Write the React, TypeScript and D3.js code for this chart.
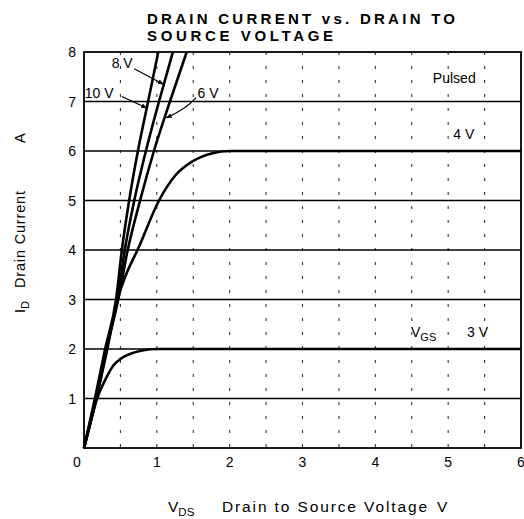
import * as d3 from "d3";

// Vds tick labels and Id tick labels
const vdsTicks = [0, 1, 2, 3, 4, 5, 6];
const idTicks = [1, 2, 3, 4, 5, 6, 7, 8];
const dashedVds = [0.5, 1, 1.5, 2, 2.5, 3, 3.5, 4, 4.5, 5, 5.5];
const solidId = [1, 2, 3, 4, 5, 6, 7];

// curves: [Vds (V), Id (A)]
const vgs10: [number, number][] = [[0, 0], [0.15, 1], [0.29, 2], [0.44, 3], [0.52, 4], [0.62, 5], [0.74, 6], [0.88, 7], [1.02, 8]];
const vgs8: [number, number][] = [[0, 0], [0.16, 1], [0.3, 2], [0.46, 3], [0.56, 4], [0.69, 5], [0.85, 6], [1.03, 7], [1.22, 8]];
const vgs6: [number, number][] = [[0, 0], [0.17, 1], [0.31, 2], [0.47, 3], [0.6, 4], [0.77, 5], [0.96, 6], [1.18, 7], [1.41, 8]];
const vgs4: [number, number][] = [[0, 0], [0.17, 1], [0.32, 2], [0.46, 3], [0.55, 3.4], [0.75, 4.05], [1.03, 5], [1.25, 5.5], [1.5, 5.8], [1.75, 5.95], [2, 6], [6, 6]];
const vgs3: [number, number][] = [[0, 0], [0.1, 0.6], [0.18, 1], [0.3, 1.4], [0.4, 1.66], [0.5, 1.8], [0.63, 1.9], [0.8, 1.97], [1, 2], [6, 2]];
const curves = [vgs10, vgs8, vgs6, vgs4, vgs3];

const W = 524;
const H = 519;
const m = { top: 52, right: 3, bottom: 71, left: 84 };
const font = "'Liberation Sans', Arial, sans-serif";

export default function App() {
  const x = d3.scaleLinear().domain([0, 6]).range([m.left, W - m.right]);
  const y = d3.scaleLinear().domain([0, 8]).range([H - m.bottom, m.top]);
  const path = d3
    .line<[number, number]>()
    .x((d) => x(d[0]))
    .y((d) => y(d[1]))
    .curve(d3.curveMonotoneX);

  // arrow for the 6 V label bends a little
  const arrow6 = d3.path();
  arrow6.moveTo(x(1.54), y(7.08));
  arrow6.quadraticCurveTo(x(1.4), y(6.85), x(1.13), y(6.67));

  return (
    <svg
      width={W}
      height={H}
      style={{ position: "absolute", left: 0, top: 0, background: "#fff" }}
      fontFamily={font}
    >
      <defs>
        <marker id="ah" viewBox="0 0 10 10" refX="9" refY="5" markerWidth="5" markerHeight="5" orient="auto">
          <path d="M0,1 L10,5 L0,9 z" fill="#000" />
        </marker>
      </defs>

      {/* title */}
      <text x={147} y={24} fontSize={15} fontWeight="bold" textLength={308} lengthAdjust="spacing">
        DRAIN CURRENT vs. DRAIN TO
      </text>
      <text x={147} y={41} fontSize={15} fontWeight="bold" textLength={186} lengthAdjust="spacing">
        SOURCE VOLTAGE
      </text>

      {/* grid */}
      {dashedVds.map((v) => (
        <line key={"v" + v} x1={x(v)} x2={x(v)} y1={y(8)} y2={y(0)} stroke="#333" strokeWidth={1.1} strokeDasharray="3 11" />
      ))}
      {solidId.map((v) => (
        <line key={"h" + v} x1={x(0)} x2={x(6)} y1={y(v)} y2={y(v)} stroke="#000" strokeWidth={1.6} />
      ))}
      <rect x={x(0)} y={y(8)} width={x(6) - x(0)} height={y(0) - y(8)} fill="none" stroke="#000" strokeWidth={1.8} />

      {/* curves */}
      {curves.map((c, i) => (
        <path key={i} d={path(c) || ""} fill="none" stroke="#000" strokeWidth={2.6} strokeLinejoin="round" />
      ))}

      {/* ticks */}
      {idTicks.map((t) => (
        <text key={"yt" + t} x={x(0) - 8} y={y(t) + 5} fontSize={14} textAnchor="end">
          {t}
        </text>
      ))}
      {vdsTicks.map((t) => (
        <text key={"xt" + t} x={x(t) - (t === 0 ? 7 : 0)} y={467} fontSize={14} textAnchor="middle">
          {t}
        </text>
      ))}

      {/* annotations */}
      <text x={x(0.01)} y={y(7.07)} fontSize={14}>10 V</text>
      <line x1={x(0.52)} y1={y(7.1)} x2={x(0.86)} y2={y(6.87)} stroke="#000" strokeWidth={1.2} markerEnd="url(#ah)" />
      <text x={x(0.38)} y={y(7.68)} fontSize={14}>8 V</text>
      <line x1={x(0.69)} y1={y(7.66)} x2={x(1.09)} y2={y(7.35)} stroke="#000" strokeWidth={1.2} markerEnd="url(#ah)" />
      <text x={x(1.56)} y={y(7.07)} fontSize={14}>6 V</text>
      <path d={arrow6.toString()} fill="none" stroke="#000" strokeWidth={1.2} markerEnd="url(#ah)" />
      <text x={x(4.79)} y={y(7.38)} fontSize={14}>Pulsed</text>
      <text x={x(5.07)} y={y(6.24)} fontSize={14}>4 V</text>
      <text x={x(4.49)} y={y(2.24)} fontSize={14}>
        V<tspan fontSize={11} dy={4}>GS</tspan>
        <tspan x={x(5.26)} dy={-4}>3 V</tspan>
      </text>

      {/* axis titles */}
      <text transform="translate(25,0) rotate(-90)" fontSize={14.5}>
        <tspan x={-313}>I</tspan>
        <tspan fontSize={11} dy={4}>D</tspan>
        <tspan x={-288} dy={-4} textLength={97} lengthAdjust="spacing">Drain Current</tspan>
        <tspan x={-143}>A</tspan>
      </text>
      <text y={512} fontSize={15.5}>
        <tspan x={168}>V</tspan>
        <tspan fontSize={11.5} dy={4}>DS</tspan>
        <tspan x={222} dy={-4} textLength={205} lengthAdjust="spacing">Drain to Source Voltage</tspan>
        <tspan x={437}>V</tspan>
      </text>
    </svg>
  );
}
